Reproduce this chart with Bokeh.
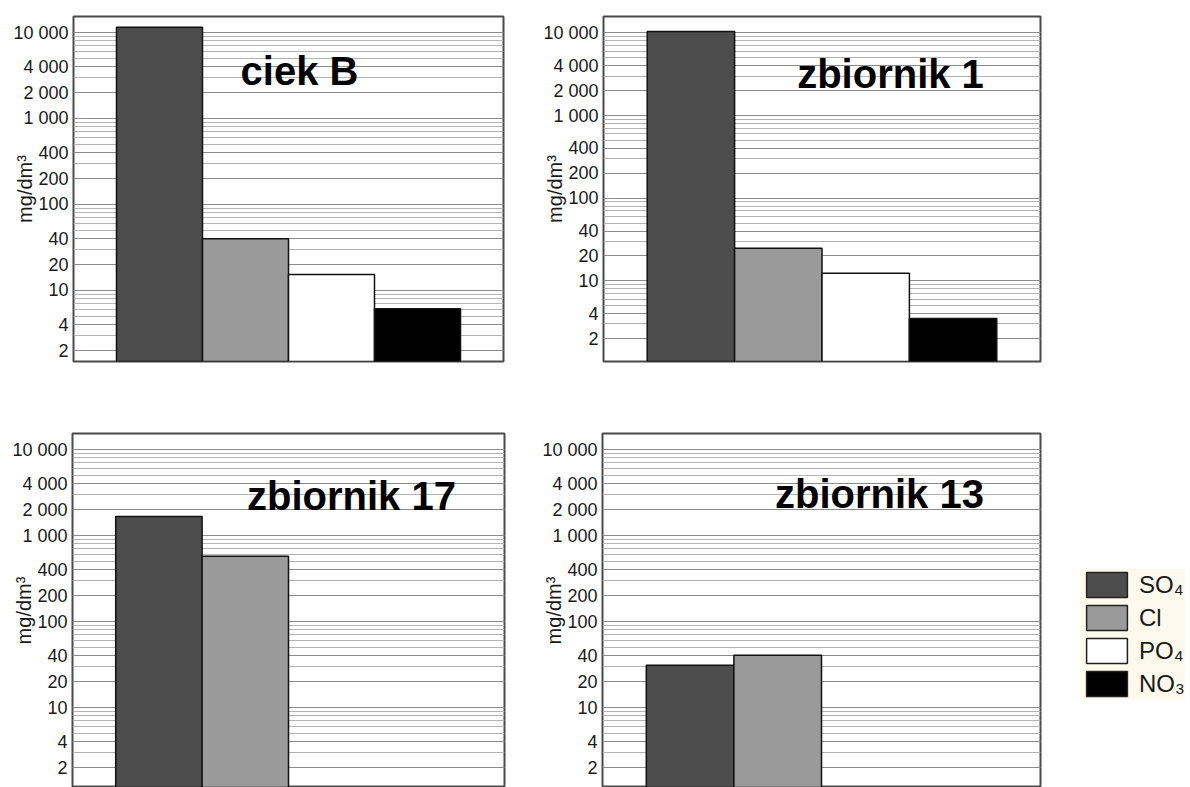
import math
from bokeh.plotting import figure
from bokeh.layouts import row, column
from bokeh.models import (Range1d, FixedTicker, Label, Legend, LegendItem,
                          ColumnDataSource)
from bokeh.embed import file_html
from bokeh.resources import INLINE

# ---------------- data ----------------
categories = ["SO\u2084", "Cl", "PO\u2084", "NO\u2083"]
colors = ["#4d4d4d", "#9a9a9a", "#ffffff", "#000000"]

ciek_B = [11500, 40, 15.3, 6.1]
zbiornik_1 = [10400, 24.8, 12.3, 3.5]
zbiornik_17 = [1660, 575, float("nan"), float("nan")]
zbiornik_13 = [31, 40.5, float("nan"), float("nan")]

major_ticks = [2, 4, 10, 20, 40, 100, 200, 400, 1000, 2000, 4000, 10000]
tick_labels = ["2", "4", "10", "20", "40", "100", "200", "400",
               "1 000", "2 000", "4 000", "10 000"]
minor_ticks = [m * 10 ** k for k in range(4) for m in range(1, 10)] + [10000]

FONT = "Liberation Sans"


def panel(name, values, width, height, mb_left, mb_right, mb_top, mb_bottom,
          y_start, y_end, title_x, title_y):
    p = figure(width=width, height=height, y_axis_type="log",
               x_range=Range1d(0, 5), y_range=Range1d(y_start, y_end),
               output_backend="svg", toolbar_location=None,
               min_border_left=mb_left, min_border_right=mb_right,
               min_border_top=mb_top, min_border_bottom=mb_bottom)
    p.xaxis.visible = False
    p.xgrid.grid_line_color = None
    p.background_fill_color = "white"
    p.border_fill_color = "white"
    p.outline_line_color = "#4a4a4a"
    p.outline_line_width = 2

    ticker = FixedTicker(ticks=major_ticks, minor_ticks=minor_ticks)
    p.yaxis.ticker = ticker
    p.ygrid.ticker = ticker
    p.yaxis.major_label_overrides = {t: l for t, l in zip(major_ticks, tick_labels)}
    p.yaxis.axis_line_color = None
    p.yaxis.major_tick_line_color = None
    p.yaxis.minor_tick_line_color = None
    p.yaxis.major_tick_out = 0
    p.yaxis.minor_tick_out = 0
    p.yaxis.major_label_standoff = 5
    p.yaxis.major_label_text_font = FONT
    p.yaxis.major_label_text_font_size = "18px"
    p.yaxis.major_label_text_color = "#1a1a1a"
    p.yaxis.axis_label = "mg/dm\u00b3"
    p.yaxis.axis_label_text_font = FONT
    p.yaxis.axis_label_text_font_style = "normal"
    p.yaxis.axis_label_text_font_size = "20px"
    p.yaxis.axis_label_text_color = "#1a1a1a"
    p.yaxis.axis_label_standoff = -26

    p.ygrid.grid_line_color = "#8c8c8c"
    p.ygrid.grid_line_width = 1
    p.ygrid.minor_grid_line_color = "#b4b4b4"
    p.ygrid.minor_grid_line_width = 1

    src = ColumnDataSource(dict(x=[1, 2, 3, 4], top=values,
                                color=colors, cat=categories))
    p.vbar(x="x", top="top", bottom=1, width=1, source=src,
           fill_color="color", line_color="#111111", line_width=1.5)

    p.add_layout(Label(x=title_x, y=title_y, x_units="screen", y_units="screen",
                       text=name, text_font=FONT, text_font_style="bold",
                       text_font_size="40px", text_align="center",
                       text_baseline="alphabetic", text_color="#000000"))
    return p


p1 = panel("ciek B", ciek_B, 530, 418, 73, 27, 16, 57, 1.49, 15350, 226, 291)
p2 = panel("zbiornik 1", zbiornik_1, 520, 418, 73, 10, 16, 43, 1.055, 15780, 287, 288)
p3 = panel("zbiornik 17", zbiornik_17, 530, 369, 72, 26, 15, 0, 1.175, 15350, 279, 292)
p4 = panel("zbiornik 13", zbiornik_13, 520, 369, 72, 10, 15, 0, 1.175, 15350, 277, 294)

# legend panel: its bars sit outside the visible ranges, only the legend shows
leg = figure(width=140, height=369, x_range=Range1d(-10, -9),
             y_range=Range1d(20000, 40000),
             output_backend="svg", toolbar_location=None,
             min_border_left=0, min_border_right=0, min_border_top=0,
             min_border_bottom=0)
leg.axis.visible = False
leg.grid.grid_line_color = None
leg.outline_line_color = None
leg.background_fill_color = "white"
leg.border_fill_color = "white"
lsrc = ColumnDataSource(dict(x=[1, 2, 3, 4], top=ciek_B, color=colors, cat=categories))
lr = leg.vbar(x="x", top="top", bottom=0, width=1, source=lsrc,
              fill_color="color", line_color="#222222", line_width=1.5)
items = [LegendItem(label=cat, renderers=[lr], index=i)
         for i, cat in enumerate(categories)]
legend = Legend(items=items, location=(31, 88), orientation="vertical",
                background_fill_color="#fdf9ec", background_fill_alpha=1,
                border_line_color=None, glyph_width=51, glyph_height=31,
                label_height=31, label_standoff=7, spacing=2, padding=8,
                margin=0, label_text_font=FONT, label_text_font_size="24px",
                label_text_color="#1a1a1a")
leg.add_layout(legend)

layout = column(row(p1, p2, spacing=0), row(p3, p4, leg, spacing=0), spacing=0)

open("out.html", "w").write(file_html(layout, INLINE))
